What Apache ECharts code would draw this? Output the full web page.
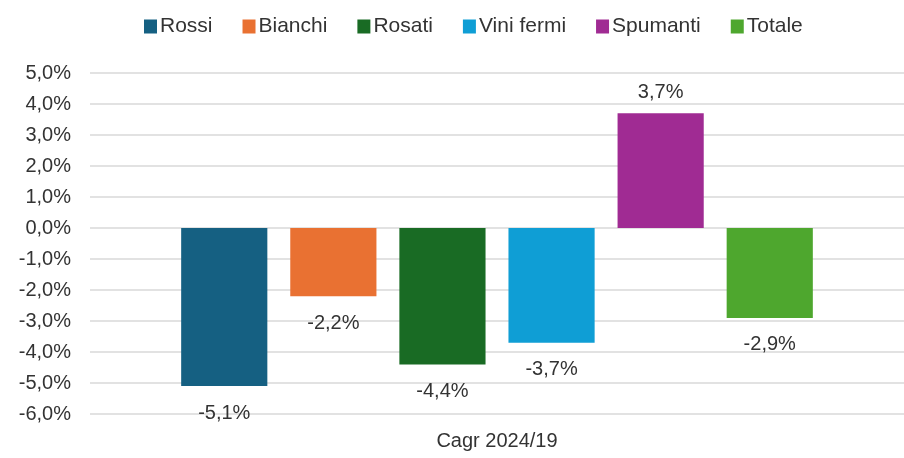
<!DOCTYPE html>
<html>
<head>
<meta charset="utf-8">
<script src="https://cdn.jsdelivr.net/npm/echarts@6/dist/echarts.min.js"></script>
<style>
  html, body { margin: 0; padding: 0; background: #fff; }
  #main { width: 904px; height: 458px; }
</style>
</head>
<body>
<div id="main"></div>
<script>
var chartDom = document.getElementById('main');
var myChart = echarts.init(chartDom);
var option;

// data
var categories = ['Cagr 2024/19'];
var seriesNames = ['Rossi', 'Bianchi', 'Rosati', 'Vini fermi', 'Spumanti', 'Totale'];
var seriesValues = [-5.1, -2.2, -4.4, -3.7, 3.7, -2.9];
var seriesColors = ['#156082', '#E97132', '#196B24', '#0F9ED5', '#A02B93', '#4EA72E'];
var yTicks = { min: -6, max: 5, interval: 1 };

var fontFam = '"Liberation Sans", Arial, sans-serif';
var textCol = '#333333';

function pct(v) {
  return v.toFixed(1).replace('.', ',') + '%';
}

var series = seriesNames.map(function (name, i) {
  return {
    name: name,
    type: 'bar',
    barGap: '26.6%',
    barCategoryGap: '22.4%',
    itemStyle: { color: seriesColors[i] },
    label: {
      show: true,
      position: 'outside',
      distance: 14,
      offset: [0, 3],
      color: textCol,
      fontSize: 20,
      fontFamily: fontFam,
      formatter: function (p) { return pct(p.value); }
    },
    data: [seriesValues[i]]
  };
});

option = {
  animation: false,
  textStyle: { fontFamily: fontFam },
  legend: {
    top: 11,
    left: 139,
    itemWidth: 13,
    itemHeight: 14,
    itemGap: 30,
    icon: 'rect',
    textStyle: { fontSize: 21, color: textCol, fontFamily: fontFam, padding: [0, 0, 0, -2] },
    data: seriesNames
  },
  grid: {
    left: 90,
    right: 0,
    top: 73,
    bottom: 44,
    containLabel: false
  },
  xAxis: {
    type: 'category',
    data: categories,
    position: 'bottom',
    axisLine: { show: false, onZero: false },
    axisTick: { show: false },
    axisLabel: { color: textCol, fontSize: 20, margin: 17, fontFamily: fontFam }
  },
  yAxis: {
    type: 'value',
    min: yTicks.min,
    max: yTicks.max,
    interval: yTicks.interval,
    axisLine: { show: false },
    axisTick: { show: false },
    splitLine: { lineStyle: { color: '#d9d9d9', width: 1.5 } },
    axisLabel: {
      color: textCol,
      fontSize: 20,
      margin: 19,
      fontFamily: fontFam,
      formatter: function (v) { return pct(v); }
    }
  },
  series: series
};

option && myChart.setOption(option);
</script>
</body>
</html>
